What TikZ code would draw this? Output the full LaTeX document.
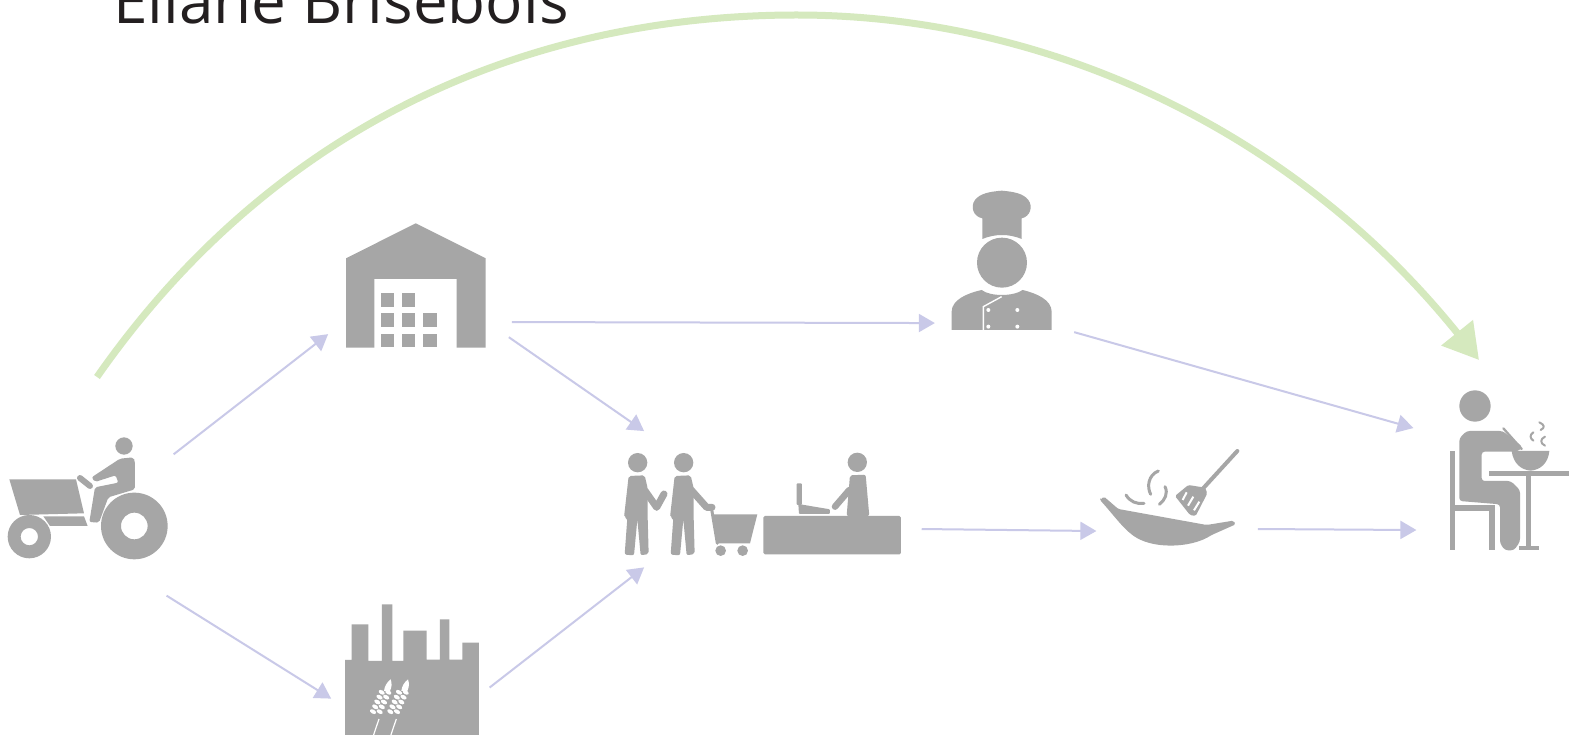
\documentclass[tikz,border=0pt]{standalone}
\usepackage{fontspec}
\setmainfont{Open Sans}
\usetikzlibrary{arrows.meta}
\definecolor{icongray}{HTML}{A6A6A6}
\definecolor{flowblue}{HTML}{C9C9E8}
\definecolor{bigarrow}{HTML}{D5E9BE}
\definecolor{titleink}{HTML}{231F20}
\tikzset{
  x=1pt,y=-1pt,
  icon/.style={fill=icongray,draw=none},
  iconline/.style={draw=icongray,line cap=round,line join=round},
  flow/.style={draw=flowblue,line width=2pt,-{Triangle[length=16pt,width=18pt]}},
  greenflow/.style={draw=bigarrow,line width=7pt,-{Triangle[length=35pt,width=39pt]}},
  zoomed/.style={shift={#1},scale=0.3333},
}
\begin{document}
\begin{tikzpicture}
\useasboundingbox (0,0) rectangle (1583,735);
\clip (0,0) rectangle (1583,735);
\fill[white] (0,0) rectangle (1583,735);

\node[anchor=base west,inner sep=0pt,text=titleink,font=\fontsize{62}{62}\selectfont] (author) at (113,24) {Eliane Brisebois};

% connector ends
\coordinate (gA) at (97,377);
\coordinate (gTop) at (797,15);
\coordinate (gB) at (1479,360);
\begin{scope}[scale=1.00957]
\coordinate (t1) at (172,450);   \coordinate (w1) at (325,331);
\coordinate (t2) at (165,590);   \coordinate (f1) at (328,692);
\coordinate (w2) at (507,319);   \coordinate (c1) at (926,320);
\coordinate (w3) at (504,334);   \coordinate (s1) at (638,427);
\coordinate (f2) at (485,681);   \coordinate (s2) at (638,562);
\coordinate (c2) at (1064,329);  \coordinate (e1) at (1400,424);
\coordinate (s3) at (913,524);   \coordinate (k1) at (1086,526);
\coordinate (k2) at (1246,524);  \coordinate (e2) at (1403,525);
\end{scope}

\draw[greenflow] (gA) .. controls (280,115) and (540,15) .. (gTop)
   .. controls (1040,15) and (1290,125) .. (gB);
\draw[flow] (t1) -- (w1);
\draw[flow] (t2) -- (f1);
\draw[flow] (w2) -- (c1);
\draw[flow] (w3) -- (s1);
\draw[flow] (f2) -- (s2);
\draw[flow] (c2) -- (e1);
\draw[flow] (s3) -- (k1);
\draw[flow] (k2) -- (e2);

% tractor
\begin{scope}[zoomed={(0,400)}]
\fill[icon] (28,238) -- (228,238) -- (252,340) -- (60,345) -- cycle;
\fill[icon] (130,349) -- (252,349) -- (263,378) -- (150,378) -- cycle;
\fill[icon,even odd rule] (403,378) circle (100) (403,378) circle (40);
\fill[icon,even odd rule] (88,410) circle (65) (88,410) circle (26);
\fill[icon] (372,138) circle (26);
\fill[icon,rounded corners=2] (275,232) -- (360,176) -- (400,172) -- (405,185) -- (405,268) -- (325,292) -- (297,368) -- (268,366) -- (285,262) -- (355,248) -- (347,226) -- (285,246) -- cycle;
\draw[iconline,line width=6pt] (240,234) -- (270,258);
\end{scope}

% warehouse
\begin{scope}[zoomed={(320,200)}]
\fill[icon] (78,175) -- (287,70) -- (497,175) -- (497,443) -- (410,443) -- (410,237) -- (163,237) -- (163,443) -- (78,443) -- cycle;
\foreach \cx/\cy in {182/280,245/280,182/340,245/340,310/340,182/402,245/402,310/402}
  \fill[icon] (\cx,\cy) rectangle ++(41,40);
\end{scope}

% factory
\begin{scope}[zoomed={(320,585)}]
\fill[icon] (75,225) -- (95,225) -- (95,118) -- (145,118) -- (145,228) -- (186,228) -- (186,58) -- (217,58) -- (217,228) -- (250,228) -- (250,137) -- (320,137) -- (320,224) -- (360,224) -- (360,103) -- (388,103) -- (388,224) -- (427,224) -- (427,173) -- (477,173) -- (477,460) -- (75,460) -- cycle;
\foreach \ox in {0,52}{
  \begin{scope}[xshift=\ox]
  \fill[white] (212,283) .. controls (200,293) and (194,303) .. (192,318) -- (210,318) .. controls (216,305) and (216,295) .. (212,283) -- cycle;
  \foreach \t in {0,1,2,3,4}{
    \fill[white,rotate around={-30:(185-\t*6.5,322+\t*14.5)}] (185-\t*6.5,322+\t*14.5) ellipse (10 and 6);
    \fill[white,rotate around={-30:(205-\t*6.5,322+\t*14.5)}] (205-\t*6.5,322+\t*14.5) ellipse (10 and 6);
  }
  \draw[white,line width=1.2pt] (177,402) -- (160,452);
  \end{scope}
}
\end{scope}

% shop
\begin{scope}[zoomed={(600,430)}]
\foreach \ox in {0,138}{
  \begin{scope}[xshift=\ox]
  \fill[icon] (113,98) circle (29);
  \fill[icon,rounded corners=2] (86,138) -- (134,136) -- (143,175) -- (143,262) -- (146,372) -- (122,376) -- (112,268) -- (102,376) -- (74,374) -- (82,264) -- (72,262) -- cycle;
  \end{scope}
}
\draw[iconline,line width=7pt] (135,182) -- (170,232) -- (192,192);
\draw[iconline,line width=7pt] (272,178) -- (320,232) -- (336,232);
\draw[iconline,line width=3pt] (334,232) -- (352,340);
\fill[icon] (335,253) -- (472,253) -- (450,340) -- (350,340) -- cycle;
\fill[icon] (362,362) circle (16);
\fill[icon] (428,362) circle (16);
\fill[icon,rounded corners=1.5] (490,258) rectangle (903,373);
\fill[icon] (772,97) circle (29);
\fill[icon,rounded corners=2] (750,136) -- (797,134) -- (808,258) -- (740,258) -- cycle;
\draw[iconline,line width=6.5pt] (748,180) -- (705,230);
\fill[icon,rounded corners=1] (590,160) rectangle (606,225);
\fill[icon,rounded corners=1] (595,222) -- (690,238) -- (690,252) -- (597,252) -- cycle;
\end{scope}

% chef
\begin{scope}[zoomed={(930,175)}]
\fill[icon] (216,263) circle (75);
\fill[icon] (157,130) -- (157,192) .. controls (195,176) and (237,176) .. (275,192) -- (275,130) .. controls (300,125) and (310,95) .. (295,75) .. controls (280,55) and (250,50) .. (215,47) .. controls (180,50) and (150,55) .. (135,75) .. controls (120,95) and (130,125) .. (157,130) -- cycle;
\fill[icon] (65,465) -- (65,410) .. controls (65,375) and (110,355) .. (155,345) .. controls (180,365) and (250,365) .. (278,345) .. controls (320,355) and (365,375) .. (365,410) -- (365,465) -- cycle;
\draw[white,line width=1.4pt] (160,465) -- (160,395) -- (215,365);
\foreach \cx/\cy in {175/405,262/405,175/455,262/455} \fill[white] (\cx,\cy) circle (6);
\end{scope}

% wok
\begin{scope}[zoomed={(1080,435)}]
\fill[icon,rounded corners=1.5] (60,195) -- (72,185) -- (115,222) -- (380,270) -- (460,257) -- (467,268) -- (395,300) .. controls (340,335) and (250,340) .. (190,318) .. controls (140,298) and (110,250) .. (60,195) -- cycle;
\fill[icon,rounded corners=1.5] (285,183) -- (325,150) -- (375,158) -- (382,175) -- (347,243) -- (330,240) -- cycle;
\draw[iconline,line width=4pt] (365,165) -- (472,48);
\draw[white,line width=2pt] (320,172) -- (308,195);
\draw[white,line width=2pt] (340,185) -- (324,212);
\draw[white,line width=2pt] (358,200) -- (342,226);
\draw[iconline,line width=3pt] (235,108) .. controls (205,120) and (200,155) .. (212,178);
\draw[iconline,line width=3pt] (255,155) .. controls (265,175) and (255,195) .. (238,208);
\draw[iconline,line width=3pt] (138,180) .. controls (150,200) and (170,208) .. (192,205);
\end{scope}

% diner
\begin{scope}[zoomed={(1420,375)}]
\fill[icon] (165,93) circle (47);
\fill[icon,rounded corners=3] (118,378) -- (118,190) -- (140,168) -- (248,168) -- (308,216) -- (292,230) -- (185,230) -- (185,318) -- (272,318) -- (300,345) -- (300,500) -- (282,526) -- (255,526) -- (240,505) -- (240,388) -- cycle;
\fill[icon] (90,228) rectangle (105,525);
\fill[icon] (100,390) rectangle (225,408);
\fill[icon] (208,400) rectangle (224,525);
\fill[icon] (207,288) rectangle (447,302);
\fill[icon] (317,295) rectangle (333,520);
\fill[icon] (298,514) rectangle (358,525);
\fill[icon] (275,228) -- (388,228) .. controls (385,265) and (360,285) .. (332,287) .. controls (303,285) and (280,265) .. (275,228) -- cycle;
\draw[iconline,line width=2.3pt] (250,160) -- (305,222);
\draw[iconline,line width=2pt] (358,142) .. controls (375,150) and (375,158) .. (362,165);
\draw[iconline,line width=2pt] (340,172) .. controls (328,180) and (330,190) .. (340,197);
\draw[iconline,line width=2pt] (375,185) .. controls (360,192) and (360,205) .. (375,212);
\end{scope}
\end{tikzpicture}
\end{document}
